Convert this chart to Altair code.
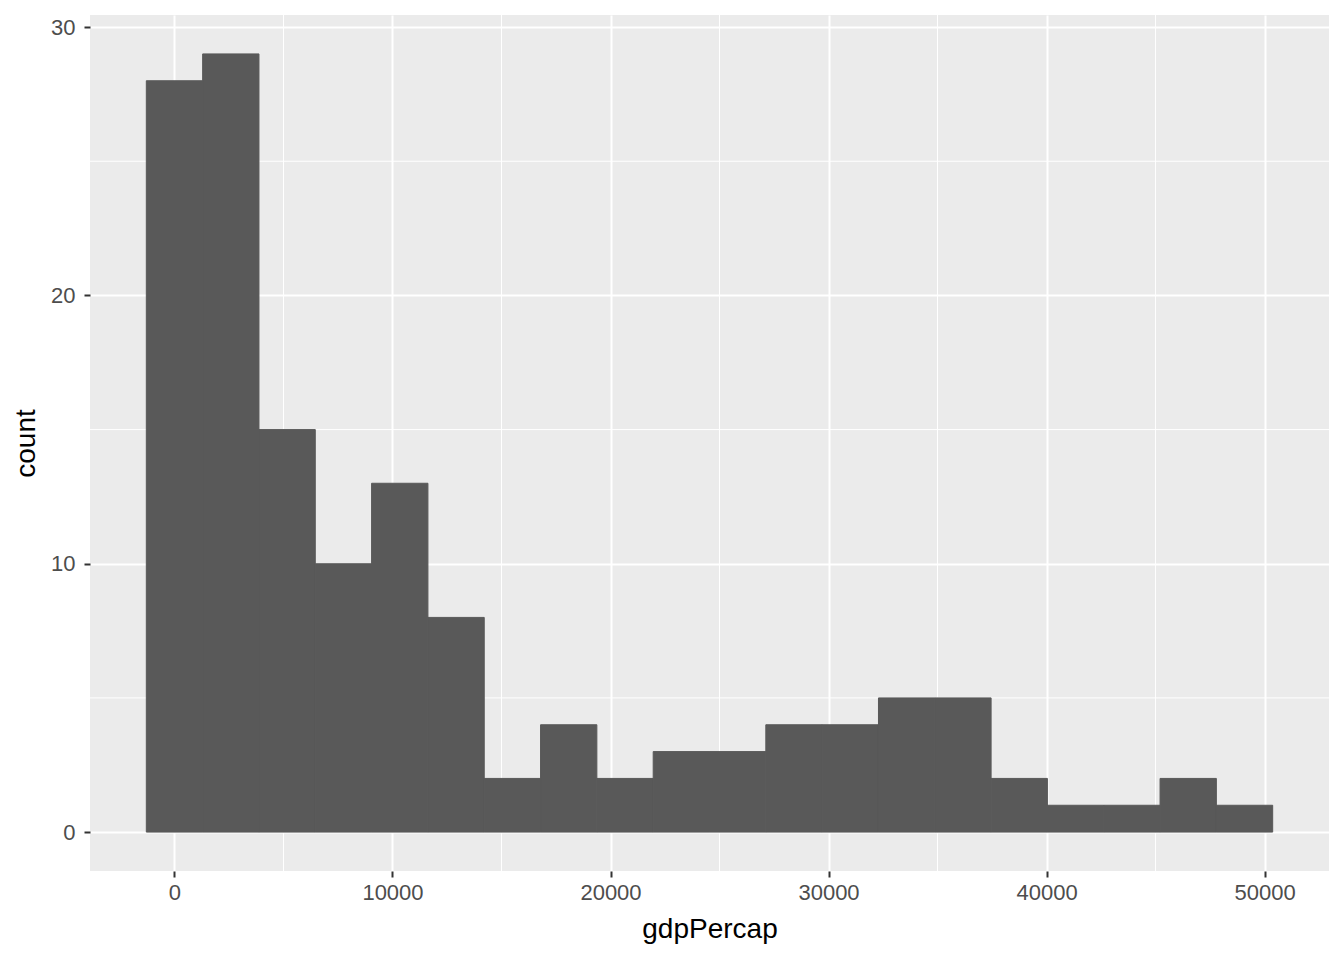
import altair as alt
import pandas as pd

# Histogram bins (left edge, right edge) and counts
bin_left = [-1292, 1292, 3875, 6458, 9041, 11625, 14208, 16791, 19374, 21958,
            24541, 27124, 29707, 32291, 34874, 37457, 40040, 42624, 45207, 47790]
bin_right = [1292, 3875, 6458, 9041, 11625, 14208, 16791, 19374, 21958, 24541,
             27124, 29707, 32291, 34874, 37457, 40040, 42624, 45207, 47790, 50373]
counts = [28, 29, 15, 10, 13, 8, 2, 4, 2, 3, 3, 4, 4, 5, 5, 2, 1, 1, 2, 1]

x_ticks = [0, 10000, 20000, 30000, 40000, 50000]
y_ticks = [0, 10, 20, 30]
x_minor = [5000, 15000, 25000, 35000, 45000]
y_minor = [5, 15, 25]

x_domain = [-3875, 52956]
y_domain = [-1.45, 30.45]

df = pd.DataFrame({"lo": bin_left, "hi": bin_right, "count": counts, "zero": [0] * len(counts)})

xs = alt.Scale(domain=x_domain, nice=False, zero=False)
ys = alt.Scale(domain=y_domain, nice=False, zero=False)

FONT = "Liberation Sans"

xaxis = alt.Axis(values=x_ticks, title="gdpPercap", format="d", titlePadding=12, labelPadding=5)
yaxis = alt.Axis(values=y_ticks, title="count", format="d", titlePadding=10, labelPadding=9)

xminor = alt.Chart(pd.DataFrame({"v": x_minor})).mark_rule(color="white", strokeWidth=1).encode(
    x=alt.X("v:Q", scale=xs, axis=xaxis)
)
yminor = alt.Chart(pd.DataFrame({"v": y_minor})).mark_rule(color="white", strokeWidth=1).encode(
    y=alt.Y("v:Q", scale=ys, axis=yaxis)
)

bars = alt.Chart(df).mark_rect(color="#595959", stroke="#595959", strokeWidth=1).encode(
    x=alt.X("lo:Q", scale=xs, axis=xaxis),
    x2="hi:Q",
    y=alt.Y("count:Q", scale=ys, axis=yaxis),
    y2="zero:Q",
)

chart = alt.layer(xminor, yminor, bars).properties(
    width=1239, height=856,
    autosize=alt.AutoSizeParams(type="none"),
    padding={"left": 82, "top": 7, "right": 7, "bottom": 81},
).configure_view(fill="#EBEBEB", stroke=None).configure_axis(
    grid=True, gridColor="white", gridWidth=2, domain=False,
    tickColor="#333333", tickWidth=2, tickSize=6,
    labelColor="#4D4D4D", labelFontSize=22, labelFont=FONT, labelFlush=False,
    titleFont=FONT, titleFontSize=28, titleFontWeight="normal", titleColor="black",
)

chart.save("out.html", embed_options={"renderer": "svg", "actions": False})
